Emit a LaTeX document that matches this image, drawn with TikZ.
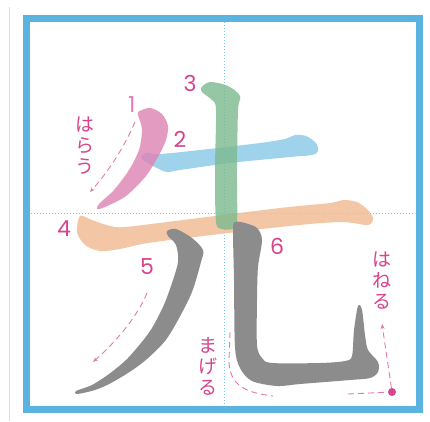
\documentclass[tikz,border=0pt]{standalone}
\usepackage{fontspec}
\setmainfont{Poppins}
\newfontfamily\jp{Noto Sans CJK JP}
\usetikzlibrary{arrows.meta}
\definecolor{frameblue}{RGB}{91,179,224}
\definecolor{guideblue}{RGB}{120,195,232}
\definecolor{kpink}{RGB}{222,130,178}
\definecolor{kblue}{RGB}{136,199,230}
\definecolor{kgreen}{RGB}{124,186,142}
\definecolor{korange}{RGB}{240,186,143}
\definecolor{kgray}{RGB}{140,140,140}
\definecolor{tpink}{RGB}{214,68,140}
\definecolor{tpinklight}{RGB}{228,120,175}
\tikzset{
  strokefill/.style={fill=#1, draw=none, fill opacity=0.8},
  guide/.style={guideblue, line width=0.9pt, dash pattern=on 1pt off 2pt},
  num/.style={text=tpink, font=\fontsize{22}{22}\selectfont, inner sep=0pt},
  vtext/.style={text=tpink, font=\jp\fontsize{19}{21}\selectfont, inner sep=0pt, align=center},
  darrow/.style={tpinklight, line width=0.9pt, dash pattern=on 6pt off 4pt},
  tip/.style={-{Stealth[length=5pt,width=4pt]}}
}
\begin{document}
\begin{tikzpicture}[x=1pt,y=-1pt]
\useasboundingbox (0,0) rectangle (430,421);
\fill[white] (0,0) rectangle (430,421);
% left grey line
\draw[gray!25, line width=1.5pt] (9.5,7) -- (9.5,421);
% guides
\draw[guide] (224,22) -- (224,406);
\draw[guide] (31,213) -- (415,213);
% strokes
\fill[strokefill=korange] plot[smooth cycle, tension=0.5] coordinates {(80,216) (92,220) (110,226) (125,227) (175,221) (280,208) (330,203) (343,200) (357,202) (368,210) (373,218) (368,225) (340,222) (280,227) (155,242) (120,249) (100,251) (85,245) (77,232)};
\fill[strokefill=kblue] plot[smooth cycle, tension=0.5] coordinates {(141,158) (146,153) (160,154) (200,150) (260,143) (285,139) (295,135) (306,136) (316,143) (318,151) (312,155) (290,157) (230,163) (180,170) (167,172) (155,167)};
\fill[strokefill=kpink] plot[smooth cycle, tension=0.5] coordinates {(138,112) (150,108) (162,114) (168,126) (166,140) (159,155) (146,176) (126,196) (105,207) (97,209) (100,203) (114,190) (129,170) (139,150) (142,130) (139,118)};
\fill[strokefill=kgreen] plot[smooth cycle, tension=0.5] coordinates {(201,88) (210,82) (228,86) (240,96) (238,110) (237,170) (237,222) (232,229) (222,229) (216,222) (215,170) (216,110) (212,100) (203,93)};
\fill[kgray] plot[smooth cycle, tension=0.5] coordinates {(167,231) (176,229) (192,238) (203,250) (201,262) (192,292) (178,320) (165,341) (147,359) (131,371) (111,383) (95,390) (77,394) (76,391) (92,385) (109,374) (126,360) (141,343) (152,328) (163,307) (171,286) (178,262) (176,245) (168,236)};
\fill[kgray] plot[smooth cycle, tension=0.5] coordinates {(235,222) (245,223) (257,228) (262,240) (258,267) (257,300) (257,345) (262,358) (272,363) (320,363) (345,361) (352,356) (354,330) (358,306) (362,310) (365,335) (368,350) (378,362) (378,372) (370,378) (350,380) (300,384) (277,386) (252,381) (240,368) (235,347) (234,280) (233,230)};
% frame
\draw[frameblue, line width=7pt] (26.5,18.5) rectangle (419.5,409.5);
% numbers
\node[num, text=tpinklight] (n1) at (132,105) {1};
\node[num] (n2) at (180,139) {2};
\node[num] (n3) at (190,83) {3};
\node[num] (n4) at (64,229) {4};
\node[num] (n5) at (147,267) {5};
\node[num] (n6) at (277,246) {6};
% vertical texts
\node[vtext] (t1) at (85,146) {は\\ら\\う};
\node[vtext] (t2) at (382,281) {は\\ね\\る};
\node[vtext] (t3) at (208,366) {ま\\げ\\る};
% dashed arrows
\coordinate (a1s) at (135,122);
\coordinate (a1e) at (90,192);
\draw[darrow, tip] (a1s) .. controls (125,145) and (110,170) .. (a1e);
\coordinate (a5s) at (147,293);
\coordinate (a5e) at (93,362);
\draw[darrow, tip] (a5s) .. controls (138,315) and (118,340) .. (a5e);
\coordinate (a6s) at (230,332);
\coordinate (a6e) at (273,396);
\draw[darrow] (a6s) -- (229,362) .. controls (230,388) and (250,393) .. (a6e);
\node[circle, fill=tpink, minimum size=8pt, inner sep=0pt] (dot) at (392,392) {};
\coordinate (hs) at (348,394);
\coordinate (he) at (382,324);
\draw[darrow] (hs) -- (dot);
\draw[darrow, tip] (dot) -- (he);
\end{tikzpicture}
\end{document}
